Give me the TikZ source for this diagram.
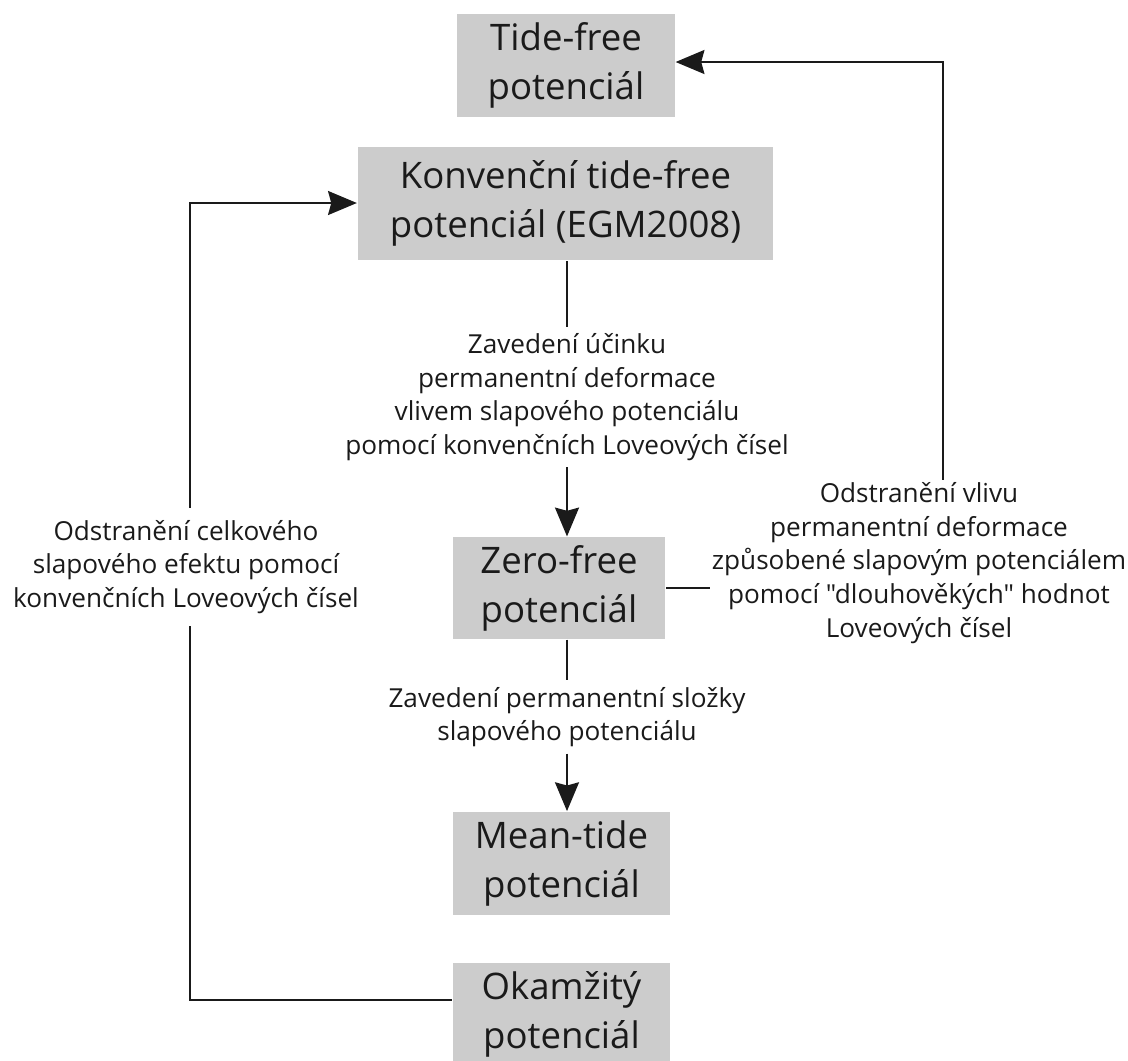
\documentclass[tikz,border=0pt]{standalone}
\usepackage{fontspec}
\setmainfont{Open Sans}[Ligatures=TeXOff]
\usetikzlibrary{arrows.meta,positioning}

\definecolor{boxgray}{HTML}{CCCCCC}
\definecolor{inkgray}{HTML}{1A1A1A}

\begin{document}
\begin{tikzpicture}[
    x=0.025cm, y=-0.025cm,
    >={Stealth[length=0.72cm,width=0.6cm,inset=0.08cm]},
    line width=1.4pt,
    draw=inkgray,
    potbox/.style={fill=boxgray,align=center,inner sep=0pt,text=inkgray,
        font=\fontsize{26}{35}\selectfont,minimum width=5.43cm,minimum height=2.57cm},
    steplabel/.style={align=center,inner sep=4pt,text=inkgray,
        font=\fontsize{18.6}{24}\selectfont}
]
\useasboundingbox (0,0) rectangle (1128,1060);

\node[potbox] (tideFree) at (566, 65.5) {Tide-free\\potenciál};
\node[potbox,minimum width=10.38cm,minimum height=2.83cm] (konvTideFree) at (565.5, 203.5) {Konvenční tide-free\\potenciál (EGM2008)};
\node[potbox,minimum width=5.3cm,minimum height=2.53cm] (zeroFree) at (559, 588) {Zero-free\\potenciál};
\node[potbox] (meanTide) at (561.5, 863.5) {Mean-tide\\potenciál};
\node[potbox] (okamzity) at (561.5, 1014.5) {Okamžitý\\potenciál};

\node[steplabel] (lblDeform) at (567, 397) {Zavedení účinku\\permanentní deformace\\vlivem slapového potenciálu\\pomocí konvenčních Loveových čísel};
\node[steplabel] (lblPermanent) at (567, 717) {Zavedení permanentní složky\\slapového potenciálu};
\node[steplabel,inner sep=1pt] (lblRemoveDeform) at (919, 563) {Odstranění vlivu\\permanentní deformace\\způsobené slapovým potenciálem\\pomocí "dlouhověkých" hodnot\\Loveových čísel};
\node[steplabel,inner sep=8pt] (lblRemoveTotal) at (186, 567) {Odstranění celkového\\slapového efektu pomocí\\konvenčních Loveových čísel};

\coordinate (rightTop) at (943, 62);
\coordinate (leftTop) at (190, 203);
\coordinate (leftBottom) at (190, 1000);

% -- main column --
\draw (konvTideFree.south -| lblDeform) -- (lblDeform.north);
\draw[->] (lblDeform.south) -- (lblDeform.south |- zeroFree.north);
\draw (lblPermanent.north |- zeroFree.south) -- (lblPermanent.north);
\draw[->] (lblPermanent.south) -- (lblPermanent.south |- meanTide.north);

% -- right loop --
\draw (zeroFree.east) -- (zeroFree.east -| lblRemoveDeform.west);
\draw[->] (lblRemoveDeform.north -| rightTop) -- (rightTop) -- (tideFree.east |- rightTop);

% -- left loop --
\draw[->] (lblRemoveTotal.north -| leftTop) -- (leftTop) -- (konvTideFree.west |- leftTop);
\draw (lblRemoveTotal.south -| leftBottom) -- (leftBottom) -- (okamzity.west |- leftBottom);

\end{tikzpicture}
\end{document}
